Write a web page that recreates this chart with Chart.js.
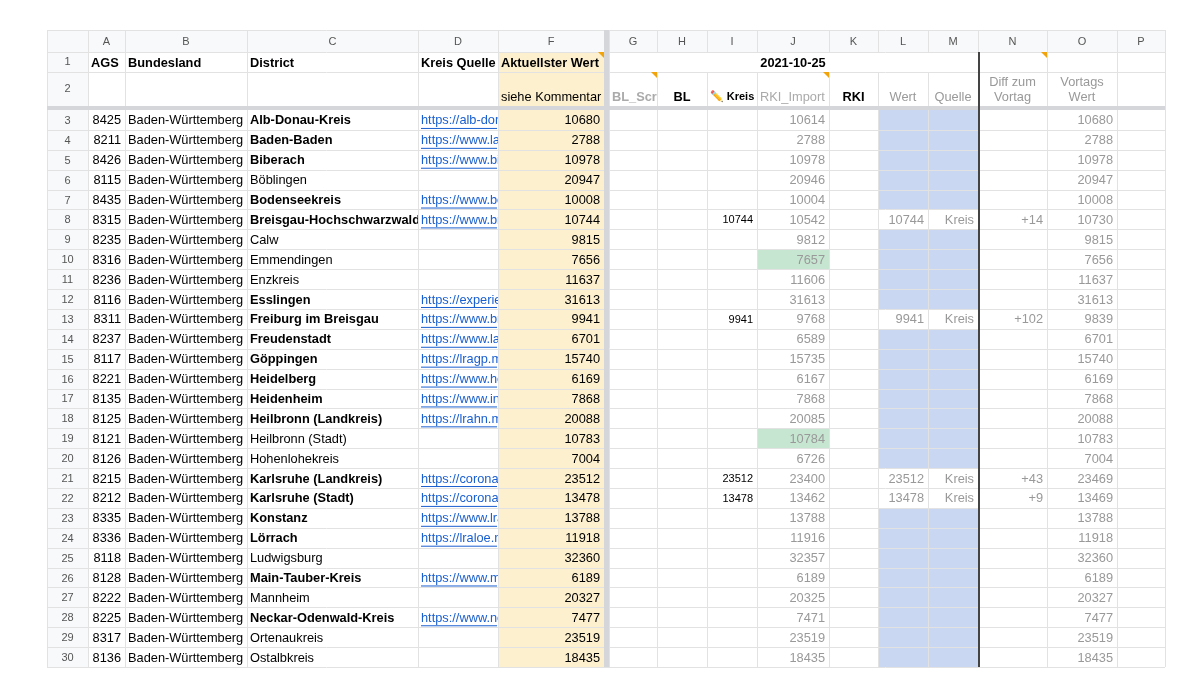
<!DOCTYPE html>
<html>
<head>
<meta charset="utf-8">
<script src="https://cdn.jsdelivr.net/npm/chart.js@4/dist/chart.umd.min.js"></script>
<style>
  html, body { margin: 0; padding: 0; background: #fff; }
  #wrap { width: 1200px; height: 690px; }
</style>
</head>
<body>
<div id="wrap"><canvas id="sheet" width="1200" height="690"></canvas></div>
<script>
// sheet rows 3..30
var rowNums = [3,4,5,6,7,8,9,10,11,12,13,14,15,16,17,18,19,20,21,22,23,24,25,26,27,28,29,30];
var ags = [8425,8211,8426,8115,8435,8315,8235,8316,8236,8116,8311,8237,8117,8221,8135,8125,8121,8126,8215,8212,8335,8336,8118,8128,8222,8225,8317,8136];
var bundesland = 'Baden-Württemberg';
var districts = ['Alb-Donau-Kreis','Baden-Baden','Biberach','Böblingen','Bodenseekreis','Breisgau-Hochschwarzwald','Calw','Emmendingen','Enzkreis','Esslingen','Freiburg im Breisgau','Freudenstadt','Göppingen','Heidelberg','Heidenheim','Heilbronn (Landkreis)','Heilbronn (Stadt)','Hohenlohekreis','Karlsruhe (Landkreis)','Karlsruhe (Stadt)','Konstanz','Lörrach','Ludwigsburg','Main-Tauber-Kreis','Mannheim','Neckar-Odenwald-Kreis','Ortenaukreis','Ostalbkreis'];
var boldDistrict = [1,1,1,0,1,1,0,0,0,1,1,1,1,1,1,1,0,0,1,1,1,1,0,1,0,1,0,0];
var links = ['https://alb-donau-kreis.de','https://www.landkreis','https://www.biberach.de','','https://www.bodenseekreis.de','https://www.breisgau','','','','https://experience','https://www.breisgau','https://www.landkreis','https://lragp.maps','https://www.heidelberg','https://www.info','https://lrahn.maps','','','https://corona.karlsruhe','https://corona.karlsruhe','https://www.lrakn','https://lraloe.net','','https://www.main-tauber','','https://www.neckar','',''];
var aktuell = [10680,2788,10978,20947,10008,10744,9815,7656,11637,31613,9941,6701,15740,6169,7868,20088,10783,7004,23512,13478,13788,11918,32360,6189,20327,7477,23519,18435];
var kreisInput = [null,null,null,null,null,10744,null,null,null,null,9941,null,null,null,null,null,null,null,23512,13478,null,null,null,null,null,null,null,null];
var rkiImport = [10614,2788,10978,20946,10004,10542,9812,7657,11606,31613,9768,6589,15735,6167,7868,20085,10784,6726,23400,13462,13788,11916,32357,6189,20325,7471,23519,18435];
var rkiGreen = [0,0,0,0,0,0,0,1,0,0,0,0,0,0,0,0,1,0,0,0,0,0,0,0,0,0,0,0];
var diffVortag = ['','','','','','+14','','','','','+102','','','','','','','','+43','+9','','','','','','','',''];
var vortag = [10680,2788,10978,20947,10008,10730,9815,7656,11637,31613,9839,6701,15740,6169,7868,20088,10783,7004,23469,13469,13788,11918,32360,6189,20327,7477,23519,18435];
var colLetters = ['A','B','C','D','F','G','H','I','J','K','L','M','N','O','P'];

// column edges in sheet pixels (layout)
var edges = {rn:[47,88], A:[88,125], B:[125,247], C:[247,418], D:[418,498], F:[498,604], G:[609,657], H:[657,707], I:[707,757], J:[757,829], K:[829,878], L:[878,928], M:[928,978], N:[978,1047], O:[1047,1117], P:[1117,1165]};
var FONT = 'Arial, "Liberation Sans", sans-serif';

var sheetPlugin = {
  id: 'sheet',
  afterDraw: function(chart) {
    var c = chart.ctx, xs = chart.scales.x, ys = chart.scales.y;
    function X(v) { return xs.getPixelForValue(v); }
    function rowTop(i) { return Math.round(ys.getPixelForValue(rowNums[i] - 0.5)); }
    function rowBot(i) { return Math.round(ys.getPixelForValue(rowNums[i] + 0.5)); }
    function fillCol(k, y0, y1, col) { c.fillStyle = col; c.fillRect(X(edges[k][0]), y0, X(edges[k][1]) - X(edges[k][0]), y1 - y0); }
    function txt(s, k, y, align, color, weight, size) {
      c.font = (weight || '') + ' ' + (size || 12.8) + 'px ' + FONT;
      c.fillStyle = color || '#000';
      c.textAlign = align; c.textBaseline = 'middle';
      var x = align === 'right' ? X(edges[k][1]) - 4 : align === 'center' ? (X(edges[k][0]) + X(edges[k][1])) / 2 : X(edges[k][0]) + 3;
      c.save(); c.beginPath(); c.rect(X(edges[k][0]), y - 12, X(edges[k][1]) - X(edges[k][0]), 24); c.clip();
      c.fillText(s, x, y); c.restore();
      return x;
    }
    var top = 30, hdrB = 52, r1B = 72, r2B = 106, gridTop = rowTop(0), bottom = rowBot(rowNums.length - 1);
    c.save();
    c.fillStyle = '#f8f9fa';
    c.fillRect(X(47), top, X(1165) - X(47), hdrB - top);
    c.fillRect(X(47), top, X(88) - X(47), bottom - top);
    fillCol('F', hdrB, bottom, '#fdf0cf');
    for (var i = 0; i < rowNums.length; i++) {
      if (kreisInput[i] === null) { fillCol('L', rowTop(i), rowBot(i), '#c9d7f3'); fillCol('M', rowTop(i), rowBot(i), '#c9d7f3'); }
      if (rkiGreen[i]) fillCol('J', rowTop(i), rowBot(i), '#c7e6d1');
    }
    c.strokeStyle = '#e2e2e2'; c.lineWidth = 1;
    Object.keys(edges).forEach(function(k) {
      [edges[k][0], edges[k][1]].forEach(function(e) {
        c.beginPath(); c.moveTo(X(e) + 0.5, top); c.lineTo(X(e) + 0.5, bottom); c.stroke();
      });
    });
    var hs = [top, hdrB, r1B, r2B];
    for (i = 0; i < rowNums.length; i++) hs.push(rowBot(i));
    hs.forEach(function(y) { c.beginPath(); c.moveTo(X(47), Math.round(y) + 0.5); c.lineTo(X(1165), Math.round(y) + 0.5); c.stroke(); });
    c.fillStyle = '#fff'; c.fillRect(X(610), hdrB + 1, X(978) - X(610), r1B - hdrB - 1);
    c.fillRect(X(979), hdrB + 1, X(1047) - X(979) - 1, r1B - hdrB - 1);
    c.fillRect(X(1048), hdrB + 1, X(1117) - X(1048) - 1, r1B - hdrB - 1);
    c.fillStyle = '#d4d6d9';
    c.fillRect(X(47), r2B, X(1165) - X(47), gridTop - r2B);
    c.fillRect(X(604), top, X(609) - X(604), bottom - top);
    c.fillStyle = '#444'; c.fillRect(X(978), hdrB, 2, bottom - hdrB);
    colLetters.forEach(function(L) { txt(L, L, (top + hdrB) / 2 + 1, 'center', '#555', '', 11); });
    txt('1', 'rn', (hdrB + r1B) / 2, 'center', '#555', '', 11);
    txt('2', 'rn', (r1B + r2B) / 2, 'center', '#555', '', 11);
    var h1 = (hdrB + r1B) / 2 + 1, h2 = r2B - 9;
    txt('AGS', 'A', h1, 'left', '#000', 'bold');
    txt('Bundesland', 'B', h1, 'left', '#000', 'bold');
    txt('District', 'C', h1, 'left', '#000', 'bold');
    txt('Kreis Quelle', 'D', h1, 'left', '#000', 'bold');
    txt('Aktuellster Wert', 'F', h1, 'left', '#000', 'bold');
    txt('siehe Kommentar', 'F', h2, 'left', '#000', '');
    c.font = 'bold 12.8px ' + FONT; c.fillStyle = '#000'; c.textAlign = 'center';
    c.fillText('2021-10-25', X(793), h1);
    txt('BL_Scraper', 'G', h2, 'left', '#aaa', 'bold');
    txt('BL', 'H', h2, 'center', '#000', 'bold');
    txt('\u270F\uFE0F Kreis', 'I', h2, 'center', '#000', 'bold', 11);
    txt('RKI_Import', 'J', h2, 'left', '#aaa', '');
    txt('RKI', 'K', h2, 'center', '#000', 'bold');
    txt('Wert', 'L', h2, 'center', '#999', '');
    txt('Quelle', 'M', h2, 'center', '#999', '');
    txt('Diff zum', 'N', h2 - 15, 'center', '#999', '');
    txt('Vortag', 'N', h2, 'center', '#999', '');
    txt('Vortags', 'O', h2 - 15, 'center', '#999', '');
    txt('Wert', 'O', h2, 'center', '#999', '');
    [[604, hdrB], [657, r1B], [829, r1B], [1047, hdrB]].forEach(function(p) {
      c.fillStyle = '#f0a30a'; c.beginPath(); c.moveTo(X(p[0]) - 6, p[1]); c.lineTo(X(p[0]), p[1]); c.lineTo(X(p[0]), p[1] + 6); c.fill();
    });
    for (i = 0; i < rowNums.length; i++) {
      var y = ys.getPixelForValue(rowNums[i]) + 1;
      txt(String(rowNums[i]), 'rn', y, 'center', '#555', '', 11);
      txt(String(ags[i]), 'A', y, 'right', '#000', '');
      txt(bundesland, 'B', y, 'left', '#000', '');
      txt(districts[i], 'C', y, 'left', '#000', boldDistrict[i] ? 'bold' : '');
      if (links[i]) {
        var lx = txt(links[i], 'D', y, 'left', '#1a5fd0', '');
        c.fillStyle = '#1a5fd0'; c.fillRect(lx, y + 7, X(edges.D[1]) - lx - 1, 1);
      }
      txt(String(aktuell[i]), 'F', y, 'right', '#000', '');
      if (kreisInput[i] !== null) {
        txt(String(kreisInput[i]), 'I', y, 'right', '#000', '', 11);
        txt(String(kreisInput[i]), 'L', y, 'right', '#999', '');
        txt('Kreis', 'M', y, 'right', '#999', '');
      }
      txt(String(rkiImport[i]), 'J', y, 'right', '#999', '');
      if (diffVortag[i]) txt(diffVortag[i], 'N', y, 'right', '#999', '');
      txt(String(vortag[i]), 'O', y, 'right', '#999', '');
    }
    c.restore();
  }
};

var ctx = document.getElementById('sheet').getContext('2d');
var chart = new Chart(ctx, {
  type: 'scatter',
  data: { datasets: [{ data: aktuell.map(function(v, i) { return { x: 551, y: rowNums[i] }; }), pointRadius: 0 }] },
  options: {
    responsive: false,
    maintainAspectRatio: false,
    animation: false,
    devicePixelRatio: 1,
    layout: { padding: { left: 0, right: 0, top: 110, bottom: 23 } },
    plugins: { legend: { display: false }, tooltip: { enabled: false } },
    scales: {
      x: { type: 'linear', min: 0, max: 1200, display: false },
      y: { type: 'linear', min: 2.5, max: 30.5, reverse: true, display: false }
    }
  },
  plugins: [sheetPlugin]
});
</script>
</body>
</html>
